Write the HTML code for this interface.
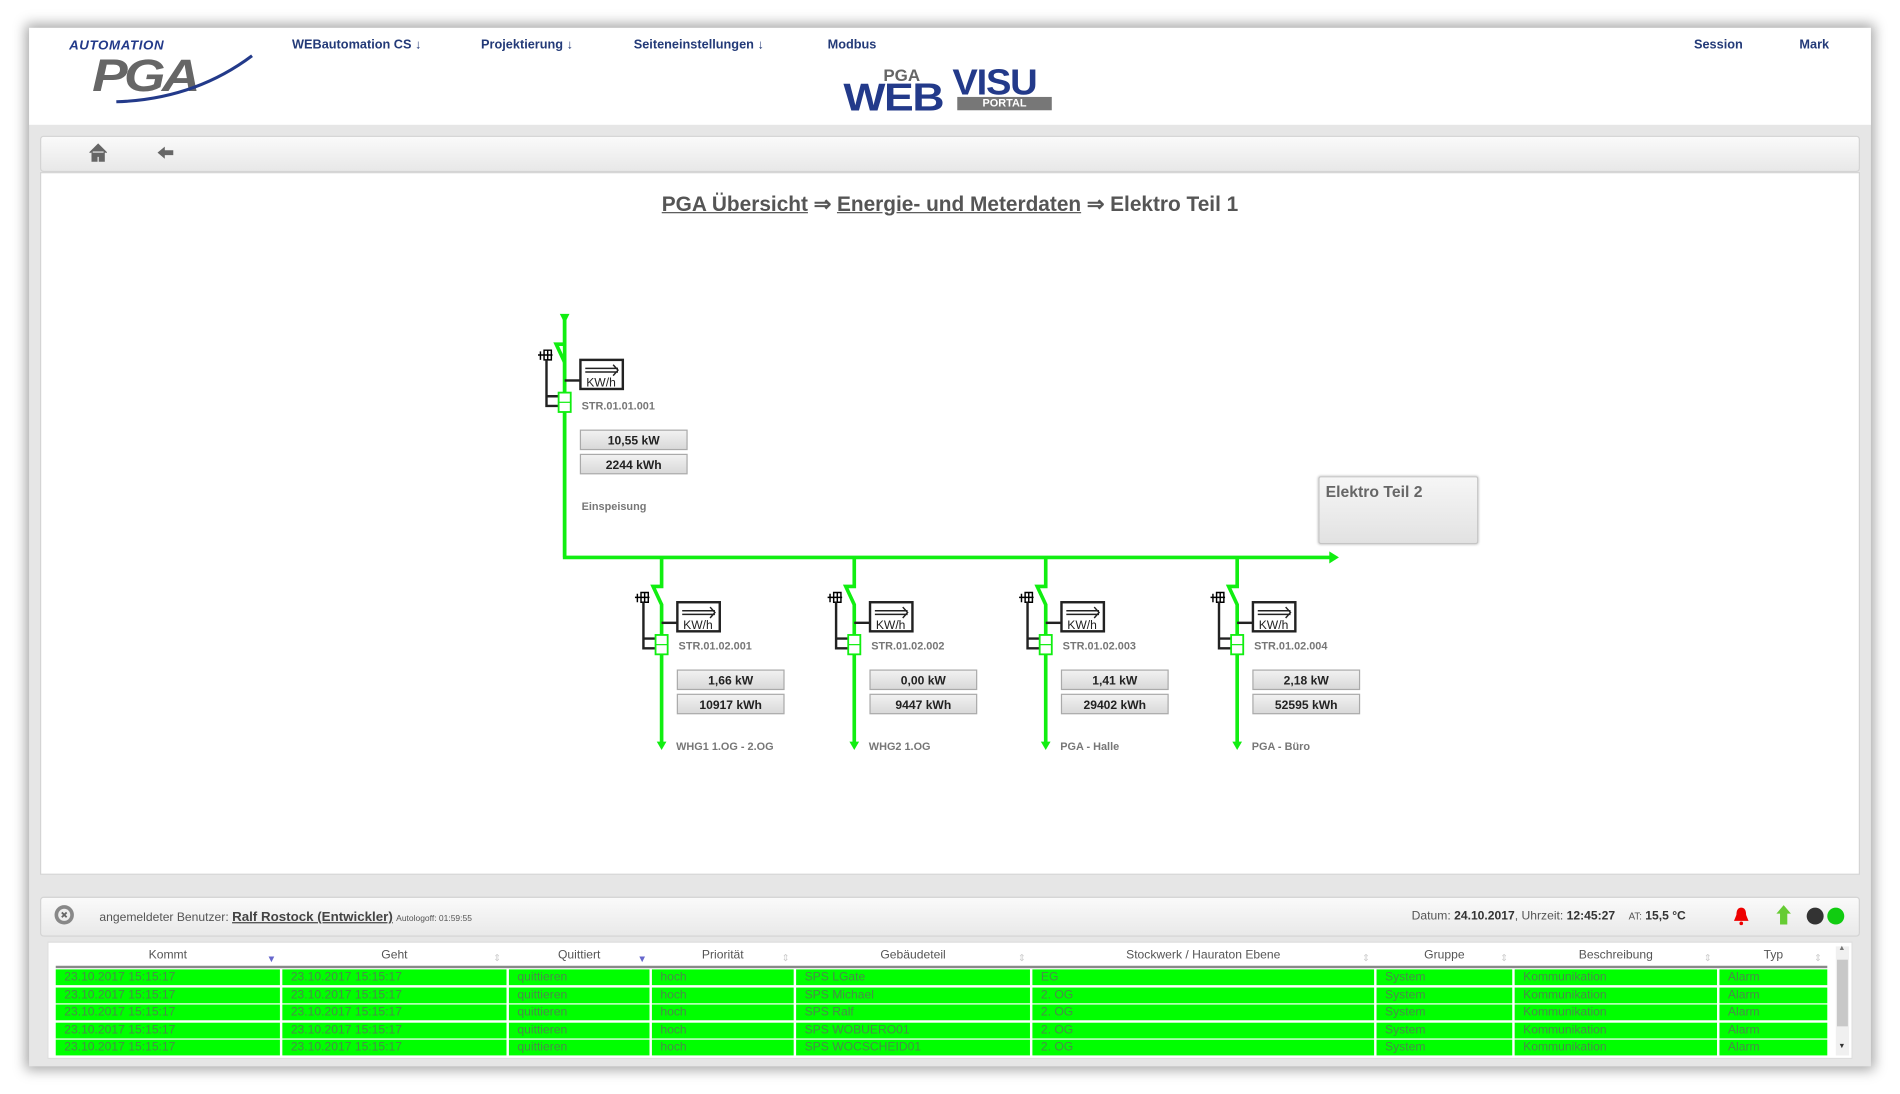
<!DOCTYPE html>
<html><head><meta charset="utf-8"><style>
html,body{margin:0;padding:0;background:#fff;width:1900px;height:1094px;overflow:hidden}
#s{position:absolute;left:0;top:0;width:1568px;height:903px;transform:scale(1.21173);transform-origin:0 0;font-family:"Liberation Sans",Arial,sans-serif}
.card{position:absolute;left:24px;top:23px;width:1520px;height:857px;background:#e6e6e6;box-shadow:0 0 10px 3px rgba(0,0,0,.35)}
.hdr{position:absolute;left:24px;top:23px;width:1520px;height:80px;background:#fff}
.menu{position:absolute;top:31px;font-size:10.5px;font-weight:bold;color:#233a78}
.tool{position:absolute;left:33px;top:112px;width:1502px;height:30px;background:linear-gradient(#fafafa,#e8e8e8);border:1px solid #d4d4d4;box-sizing:border-box;border-radius:3px}
.content{position:absolute;left:33px;top:142px;width:1502px;height:580px;background:#fff;border:1px solid #d4d4d4;box-sizing:border-box}
.bc{position:absolute;left:0;width:1568px;top:158px;text-align:center;font-size:17.2px;font-weight:bold;color:#555}
.bc u{text-decoration:underline}
.foot{position:absolute;left:33px;top:740px;width:1502px;height:33px;background:linear-gradient(#fafafa,#e9e9e9);border:1px solid #d4d4d4;box-sizing:border-box;border-radius:3px}
.tbl{position:absolute;left:39px;top:777px;width:1490px;height:97px;background:#fff;border:1px solid #ddd;box-sizing:border-box}
.th{position:absolute;top:783px;font-size:10px;color:#555;text-align:center}
.row{position:absolute;height:13px;background:#00ff00;font-size:10px;color:#4a8a4a;line-height:13px;padding-left:7px;box-sizing:border-box;white-space:nowrap;overflow:hidden}
.e2{position:absolute;left:1088px;top:393px;width:132px;height:56px;background:linear-gradient(#f6f6f6,#e2e2e2);border:1px solid #c4c4c4;border-radius:2px;box-shadow:0 0 2px #bbb;box-sizing:border-box;font-size:13px;font-weight:bold;color:#666;padding:4px 0 0 5px}
.ar{position:absolute;top:786px;font-size:8px;color:#ccc}
.ab{position:absolute;top:787px;font-size:8px;color:#66c}
</style></head><body><div id="s">
<div class="card"></div>
<div class="hdr"></div>
<div style="position:absolute;left:57px;top:32px;font-size:11px;font-weight:bold;font-style:italic;color:#233a8a;letter-spacing:0.5px">AUTOMATION</div>
<div style="position:absolute;left:76px;top:38px;font-size:44px;font-weight:bold;font-style:italic;color:#666;letter-spacing:-3px;transform:scaleY(.85)">PGA</div>
<svg style="position:absolute;left:90px;top:40px" width="125" height="50"><path d="M6 44 Q70 42 118 6" stroke="#233a8a" stroke-width="2.5" fill="none"/></svg>
<div class="menu" style="left:241px">WEBautomation CS ↓</div>
<div class="menu" style="left:397px">Projektierung ↓</div>
<div class="menu" style="left:523px">Seiteneinstellungen ↓</div>
<div class="menu" style="left:683px">Modbus</div>
<div class="menu" style="left:1398px">Session</div>
<div class="menu" style="left:1485px">Mark</div>
<div style="position:absolute;left:729px;top:54px;font-size:14px;font-weight:bold;color:#666">PGA</div>
<div style="position:absolute;left:696px;top:62px;font-size:32px;font-weight:bold;color:#233a8a;letter-spacing:-1px;transform:scaleX(1.15);transform-origin:0 0">WEB</div>
<div style="position:absolute;left:786px;top:52px;font-size:30px;font-weight:bold;color:#233a8a;letter-spacing:-1px;transform:scaleX(1.05);transform-origin:0 0">VISU</div>
<div style="position:absolute;left:790px;top:80px;width:78px;height:11px;background:#777;color:#fff;font-size:9px;font-weight:bold;text-align:center;line-height:11px">PORTAL</div>
<div class="tool"></div>
<svg style="position:absolute;left:73px;top:118px" width="80" height="16"><path d="M1 8 L8 1 L15 8 M3 7 V15 H7 V11 H9 V15 H13 V7" fill="#666" stroke="#666"/><path d="M57 8 L63 3 V6 H70 V10 H63 V13 Z" fill="#666"/></svg>
<div class="content"></div>
<div class="bc"><u>PGA Übersicht</u> ⇒ <u>Energie- und Meterdaten</u> ⇒ Elektro Teil 1</div>
<svg style="position:absolute;left:0;top:0" width="1568" height="903" font-family="Liberation Sans,Arial,sans-serif">
<defs><linearGradient id="g" x1="0" y1="0" x2="0" y2="1"><stop offset="0" stop-color="#f2f2f2"/><stop offset="1" stop-color="#d8d8d8"/></linearGradient></defs>
<polyline points="466,262 466,460 1098,460" stroke="#11ee11" stroke-width="3" fill="none"/>
<path d="M1097 455 L1105 460 L1097 465 Z" fill="#11ee11"/>
<path d="M462 259 L470 259 L466 267 Z" fill="#11ee11"/>
<g transform="translate(466,260)">
<polyline points="0,0 0,24 -7,24 0,39 0,200" stroke="#11ee11" stroke-width="3" fill="none"/>
<path d="M-22 33 H-10 M-20 30 V37 M-17 29 h6 v8 h-6 z M-14 29 v8" stroke="#000" stroke-width="1.2" fill="none"/>
<path d="M-15 37 V75 H-4 M-15 67 H-4" stroke="#222" stroke-width="2" fill="none"/>
<rect x="-5" y="64" width="10" height="16" fill="#fff" stroke="#11ee11" stroke-width="1.5"/>
<line x1="-5" y1="72" x2="5" y2="72" stroke="#11ee11"/>
<line x1="0" y1="54" x2="13" y2="54" stroke="#222" stroke-width="2"/>
<rect x="13" y="37" width="35" height="24" fill="#fff" stroke="#222" stroke-width="2"/>
<path d="M17 44 H44 M17 47 H44 M40 41 L44 45.5 L40 50" stroke="#222" stroke-width="1.2" fill="none"/>
<text x="30" y="59" font-size="10" text-anchor="middle" fill="#222">KW/h</text>
<text x="14" y="78" font-size="9" font-weight="bold" fill="#777">STR.01.01.001</text>
<rect x="13" y="95" width="88" height="16" fill="url(#g)" stroke="#aaa"/>
<rect x="13" y="115" width="88" height="16" fill="url(#g)" stroke="#aaa"/>
<text x="57" y="107" font-size="10" font-weight="bold" text-anchor="middle" fill="#222">10,55 kW</text>
<text x="57" y="127" font-size="10" font-weight="bold" text-anchor="middle" fill="#222">2244 kWh</text>
<text x="14" y="161" font-size="9" font-weight="bold" fill="#777">Einspeisung</text>
</g>
<g transform="translate(546,460)">
<polyline points="0,0 0,24 -7,24 0,39 0,153" stroke="#11ee11" stroke-width="3" fill="none"/><path d="M-4 152 L4 152 L0 159 Z" fill="#11ee11"/>
<path d="M-22 33 H-10 M-20 30 V37 M-17 29 h6 v8 h-6 z M-14 29 v8" stroke="#000" stroke-width="1.2" fill="none"/>
<path d="M-15 37 V75 H-4 M-15 67 H-4" stroke="#222" stroke-width="2" fill="none"/>
<rect x="-5" y="64" width="10" height="16" fill="#fff" stroke="#11ee11" stroke-width="1.5"/><line x1="-5" y1="72" x2="5" y2="72" stroke="#11ee11"/>
<line x1="0" y1="54" x2="13" y2="54" stroke="#222" stroke-width="2"/>
<rect x="13" y="37" width="35" height="24" fill="#fff" stroke="#222" stroke-width="2"/>
<path d="M17 44 H44 M17 47 H44 M40 41 L44 45.5 L40 50" stroke="#222" stroke-width="1.2" fill="none"/>
<text x="30" y="59" font-size="10" text-anchor="middle" fill="#222">KW/h</text>
<text x="14" y="76" font-size="9" font-weight="bold" fill="#777">STR.01.02.001</text>
<rect x="13" y="93" width="88" height="16" fill="url(#g)" stroke="#aaa"/><rect x="13" y="113" width="88" height="16" fill="url(#g)" stroke="#aaa"/>
<text x="57" y="105" font-size="10" font-weight="bold" text-anchor="middle" fill="#222">1,66 kW</text>
<text x="57" y="125" font-size="10" font-weight="bold" text-anchor="middle" fill="#222">10917 kWh</text>
<text x="12" y="159" font-size="9" font-weight="bold" fill="#777">WHG1 1.OG - 2.OG</text>
</g>
<g transform="translate(705,460)">
<polyline points="0,0 0,24 -7,24 0,39 0,153" stroke="#11ee11" stroke-width="3" fill="none"/><path d="M-4 152 L4 152 L0 159 Z" fill="#11ee11"/>
<path d="M-22 33 H-10 M-20 30 V37 M-17 29 h6 v8 h-6 z M-14 29 v8" stroke="#000" stroke-width="1.2" fill="none"/>
<path d="M-15 37 V75 H-4 M-15 67 H-4" stroke="#222" stroke-width="2" fill="none"/>
<rect x="-5" y="64" width="10" height="16" fill="#fff" stroke="#11ee11" stroke-width="1.5"/><line x1="-5" y1="72" x2="5" y2="72" stroke="#11ee11"/>
<line x1="0" y1="54" x2="13" y2="54" stroke="#222" stroke-width="2"/>
<rect x="13" y="37" width="35" height="24" fill="#fff" stroke="#222" stroke-width="2"/>
<path d="M17 44 H44 M17 47 H44 M40 41 L44 45.5 L40 50" stroke="#222" stroke-width="1.2" fill="none"/>
<text x="30" y="59" font-size="10" text-anchor="middle" fill="#222">KW/h</text>
<text x="14" y="76" font-size="9" font-weight="bold" fill="#777">STR.01.02.002</text>
<rect x="13" y="93" width="88" height="16" fill="url(#g)" stroke="#aaa"/><rect x="13" y="113" width="88" height="16" fill="url(#g)" stroke="#aaa"/>
<text x="57" y="105" font-size="10" font-weight="bold" text-anchor="middle" fill="#222">0,00 kW</text>
<text x="57" y="125" font-size="10" font-weight="bold" text-anchor="middle" fill="#222">9447 kWh</text>
<text x="12" y="159" font-size="9" font-weight="bold" fill="#777">WHG2 1.OG</text>
</g>
<g transform="translate(863,460)">
<polyline points="0,0 0,24 -7,24 0,39 0,153" stroke="#11ee11" stroke-width="3" fill="none"/><path d="M-4 152 L4 152 L0 159 Z" fill="#11ee11"/>
<path d="M-22 33 H-10 M-20 30 V37 M-17 29 h6 v8 h-6 z M-14 29 v8" stroke="#000" stroke-width="1.2" fill="none"/>
<path d="M-15 37 V75 H-4 M-15 67 H-4" stroke="#222" stroke-width="2" fill="none"/>
<rect x="-5" y="64" width="10" height="16" fill="#fff" stroke="#11ee11" stroke-width="1.5"/><line x1="-5" y1="72" x2="5" y2="72" stroke="#11ee11"/>
<line x1="0" y1="54" x2="13" y2="54" stroke="#222" stroke-width="2"/>
<rect x="13" y="37" width="35" height="24" fill="#fff" stroke="#222" stroke-width="2"/>
<path d="M17 44 H44 M17 47 H44 M40 41 L44 45.5 L40 50" stroke="#222" stroke-width="1.2" fill="none"/>
<text x="30" y="59" font-size="10" text-anchor="middle" fill="#222">KW/h</text>
<text x="14" y="76" font-size="9" font-weight="bold" fill="#777">STR.01.02.003</text>
<rect x="13" y="93" width="88" height="16" fill="url(#g)" stroke="#aaa"/><rect x="13" y="113" width="88" height="16" fill="url(#g)" stroke="#aaa"/>
<text x="57" y="105" font-size="10" font-weight="bold" text-anchor="middle" fill="#222">1,41 kW</text>
<text x="57" y="125" font-size="10" font-weight="bold" text-anchor="middle" fill="#222">29402 kWh</text>
<text x="12" y="159" font-size="9" font-weight="bold" fill="#777">PGA - Halle</text>
</g>
<g transform="translate(1021,460)">
<polyline points="0,0 0,24 -7,24 0,39 0,153" stroke="#11ee11" stroke-width="3" fill="none"/><path d="M-4 152 L4 152 L0 159 Z" fill="#11ee11"/>
<path d="M-22 33 H-10 M-20 30 V37 M-17 29 h6 v8 h-6 z M-14 29 v8" stroke="#000" stroke-width="1.2" fill="none"/>
<path d="M-15 37 V75 H-4 M-15 67 H-4" stroke="#222" stroke-width="2" fill="none"/>
<rect x="-5" y="64" width="10" height="16" fill="#fff" stroke="#11ee11" stroke-width="1.5"/><line x1="-5" y1="72" x2="5" y2="72" stroke="#11ee11"/>
<line x1="0" y1="54" x2="13" y2="54" stroke="#222" stroke-width="2"/>
<rect x="13" y="37" width="35" height="24" fill="#fff" stroke="#222" stroke-width="2"/>
<path d="M17 44 H44 M17 47 H44 M40 41 L44 45.5 L40 50" stroke="#222" stroke-width="1.2" fill="none"/>
<text x="30" y="59" font-size="10" text-anchor="middle" fill="#222">KW/h</text>
<text x="14" y="76" font-size="9" font-weight="bold" fill="#777">STR.01.02.004</text>
<rect x="13" y="93" width="88" height="16" fill="url(#g)" stroke="#aaa"/><rect x="13" y="113" width="88" height="16" fill="url(#g)" stroke="#aaa"/>
<text x="57" y="105" font-size="10" font-weight="bold" text-anchor="middle" fill="#222">2,18 kW</text>
<text x="57" y="125" font-size="10" font-weight="bold" text-anchor="middle" fill="#222">52595 kWh</text>
<text x="12" y="159" font-size="9" font-weight="bold" fill="#777">PGA - Büro</text>
</g>
</svg>
<div class="e2">Elektro Teil 2</div>
<div class="foot"></div>
<svg style="position:absolute;left:44px;top:746px" width="20" height="20"><circle cx="9" cy="9" r="8" fill="#888"/><circle cx="9" cy="9" r="5" fill="#eee"/><path d="M7 7 L11 11 M11 7 L7 11" stroke="#666" stroke-width="1.5"/></svg>
<div style="position:absolute;left:82px;top:751px;font-size:10px;color:#555;white-space:nowrap">angemeldeter Benutzer: <span style="font-size:11px;font-weight:bold;color:#444;text-decoration:underline">Ralf Rostock (Entwickler)</span> <span style="font-size:7px">Autologoff: 01:59:55</span></div>
<div style="position:absolute;left:1165px;top:751px;font-size:10px;color:#555;white-space:nowrap">Datum: <b style="color:#333">24.10.2017</b>, Uhrzeit: <b style="color:#333">12:45:27</b> &nbsp; &nbsp;<span style="font-size:8px">AT:</span> <b style="color:#333">15,5 °C</b></div>
<svg style="position:absolute;left:1430px;top:745px" width="100" height="22"><path d="M7 4 Q11 4 11 10 L13 15 H1 L3 10 Q3 4 7 4 Z" fill="#e00"/><circle cx="7" cy="17" r="1.5" fill="#e00"/><path d="M42 2 L48 9 H45 V18 H39 V9 H36 Z" fill="#6c3"/><circle cx="68" cy="11" r="7" fill="#333"/><circle cx="85" cy="11" r="7" fill="#1c1"/></svg>
<div class="tbl"></div>
<div class="th" style="left:46px;width:185px">Kommt</div>
<div class="th" style="left:233px;width:185px">Geht</div>
<div class="th" style="left:420px;width:116px">Quittiert</div>
<div class="th" style="left:538px;width:117px">Priorität</div>
<div class="th" style="left:657px;width:193px">Gebäudeteil</div>
<div class="th" style="left:852px;width:282px">Stockwerk / Hauraton Ebene</div>
<div class="th" style="left:1136px;width:112px">Gruppe</div>
<div class="th" style="left:1250px;width:167px">Beschreibung</div>
<div class="th" style="left:1419px;width:89px">Typ</div>
<div class="ab" style="left:220px">▼</div><div class="ab" style="left:526px">▼</div>
<div class="ar" style="left:407px">⇕</div><div class="ar" style="left:645px">⇕</div><div class="ar" style="left:840px">⇕</div><div class="ar" style="left:1124px">⇕</div><div class="ar" style="left:1238px">⇕</div><div class="ar" style="left:1406px">⇕</div><div class="ar" style="left:1497px">⇕</div>
<div style="position:absolute;left:46px;top:797px;width:1462px;height:2px;background:#888"></div>
<div style="position:absolute;left:1515px;top:781px;width:11px;height:90px;background:#f0f0f0"></div>
<div style="position:absolute;left:1516px;top:792px;width:9px;height:55px;background:#c8c8c8"></div>
<div style="position:absolute;left:1517px;top:780px;font-size:6px;color:#777">▲</div>
<div style="position:absolute;left:1517px;top:861px;font-size:6px;color:#333">▼</div>
<div class="row" style="left:46px;top:800px;width:185px">23.10.2017 15:15:17</div><div class="row" style="left:233px;top:800px;width:185px">23.10.2017 15:15:17</div><div class="row" style="left:420px;top:800px;width:116px">quittieren</div><div class="row" style="left:538px;top:800px;width:117px">hoch</div><div class="row" style="left:657px;top:800px;width:193px">SPS LGate</div><div class="row" style="left:852px;top:800px;width:282px">EG</div><div class="row" style="left:1136px;top:800px;width:112px">System</div><div class="row" style="left:1250px;top:800px;width:167px">Kommunikation</div><div class="row" style="left:1419px;top:800px;width:89px">Alarm</div>
<div class="row" style="left:46px;top:814.5px;width:185px">23.10.2017 15:15:17</div><div class="row" style="left:233px;top:814.5px;width:185px">23.10.2017 15:15:17</div><div class="row" style="left:420px;top:814.5px;width:116px">quittieren</div><div class="row" style="left:538px;top:814.5px;width:117px">hoch</div><div class="row" style="left:657px;top:814.5px;width:193px">SPS Michael</div><div class="row" style="left:852px;top:814.5px;width:282px">2. OG</div><div class="row" style="left:1136px;top:814.5px;width:112px">System</div><div class="row" style="left:1250px;top:814.5px;width:167px">Kommunikation</div><div class="row" style="left:1419px;top:814.5px;width:89px">Alarm</div>
<div class="row" style="left:46px;top:829px;width:185px">23.10.2017 15:15:17</div><div class="row" style="left:233px;top:829px;width:185px">23.10.2017 15:15:17</div><div class="row" style="left:420px;top:829px;width:116px">quittieren</div><div class="row" style="left:538px;top:829px;width:117px">hoch</div><div class="row" style="left:657px;top:829px;width:193px">SPS Ralf</div><div class="row" style="left:852px;top:829px;width:282px">2. OG</div><div class="row" style="left:1136px;top:829px;width:112px">System</div><div class="row" style="left:1250px;top:829px;width:167px">Kommunikation</div><div class="row" style="left:1419px;top:829px;width:89px">Alarm</div>
<div class="row" style="left:46px;top:843.5px;width:185px">23.10.2017 15:15:17</div><div class="row" style="left:233px;top:843.5px;width:185px">23.10.2017 15:15:17</div><div class="row" style="left:420px;top:843.5px;width:116px">quittieren</div><div class="row" style="left:538px;top:843.5px;width:117px">hoch</div><div class="row" style="left:657px;top:843.5px;width:193px">SPS WOBUERO01</div><div class="row" style="left:852px;top:843.5px;width:282px">2. OG</div><div class="row" style="left:1136px;top:843.5px;width:112px">System</div><div class="row" style="left:1250px;top:843.5px;width:167px">Kommunikation</div><div class="row" style="left:1419px;top:843.5px;width:89px">Alarm</div>
<div class="row" style="left:46px;top:858px;width:185px">23.10.2017 15:15:17</div><div class="row" style="left:233px;top:858px;width:185px">23.10.2017 15:15:17</div><div class="row" style="left:420px;top:858px;width:116px">quittieren</div><div class="row" style="left:538px;top:858px;width:117px">hoch</div><div class="row" style="left:657px;top:858px;width:193px">SPS WOCSCHEID01</div><div class="row" style="left:852px;top:858px;width:282px">2. OG</div><div class="row" style="left:1136px;top:858px;width:112px">System</div><div class="row" style="left:1250px;top:858px;width:167px">Kommunikation</div><div class="row" style="left:1419px;top:858px;width:89px">Alarm</div>
</div></body></html>
